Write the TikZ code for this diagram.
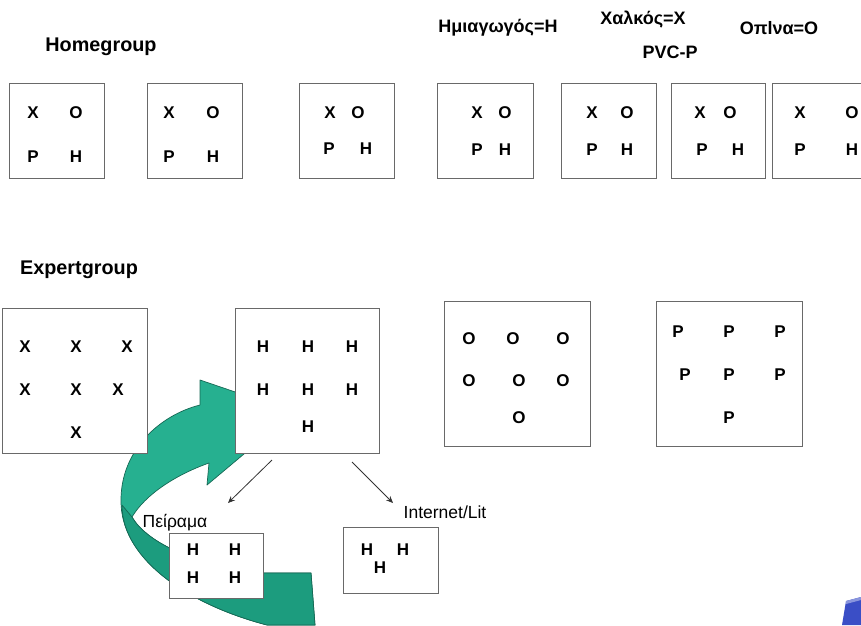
\documentclass[tikz,border=0pt]{standalone}
\usepackage{fontspec}
\setmainfont{Liberation Sans}
\usetikzlibrary{arrows.meta}

\definecolor{frame}{RGB}{105,105,105}
\definecolor{tealA}{RGB}{38,176,144}
\definecolor{tealB}{RGB}{28,156,126}
\definecolor{tealLine}{RGB}{22,104,84}
\definecolor{slideblue}{RGB}{58,78,198}

\tikzset{
  box/.style={draw=frame, line width=1.2pt, fill=white, inner sep=0pt, anchor=north west},
  lt/.style={font=\fontsize{17}{17}\selectfont\bfseries, inner sep=0pt},
  head/.style={font=\fontsize{19.8}{21}\selectfont\bfseries, inner sep=0pt},
  key/.style={font=\fontsize{18}{19}\selectfont\bfseries, inner sep=0pt},
  note/.style={font=\fontsize{17.5}{19}\selectfont, inner sep=0pt},
  pointer/.style={draw=black!80, line width=0.8pt, -{Stealth[length=7pt,width=6pt]}},
}

\begin{document}
\begin{tikzpicture}[x=1pt,y=-1pt]
\path[use as bounding box] (0,0) rectangle (861,625);
\clip (0,0) rectangle (861,625);

% headings and key
\node[head] (home) at (101,47) {Homegroup};
\node[head] (expert) at (79,270) {Expertgroup};
\node[key] (kH) at (498,28) {Ημιαγωγός=H};
\node[key] (kX) at (643,20) {Χαλκός=X};
\node[key] (kO) at (779,28) {Οπlνα=O};
\node[key] (kP) at (670,52) {PVC-P};

% home groups
\foreach \n/\xa/\xb in {1/9/104, 2/147/242, 3/299/394, 4/437/533, 5/561/656, 6/671/765, 7/772/880}{
  \pgfmathsetmacro{\w}{\xb-\xa}
  \node[box, minimum width=\w pt, minimum height=95pt] (hg\n) at (\xa,83) {};
}
\foreach \n/\xx/\xo/\px/\hx/\yt/\yb in {
  1/33/76/33/76/113/157, 2/169/213/169/213/113/157, 3/330/358/329/366/113/149,
  4/477/505/477/505/113/150, 5/592/627/592/627/113/150, 6/700/730/702/738/113/150,
  7/800/852/800/852/113/150}{
  \node[lt] (hg\n x) at (\xx,\yt) {X};
  \node[lt] (hg\n o) at (\xo,\yt) {O};
  \node[lt] (hg\n p) at (\px,\yb) {P};
  \node[lt] (hg\n h) at (\hx,\yb) {H};
}

% curved green arrow, drawn behind the expert boxes
\path[fill=tealA, draw=tealLine, line width=0.7pt, line join=round]
  (200,380) -- (294,412) -- (207,485) -- (209,463)
  .. controls (175,475) and (145,495) .. (132,517)
  .. controls (145,540) and (190,565) .. (263,573)
  -- (311,573) -- (315,625) -- (267,625)
  .. controls (190,605) and (120,560) .. (121,500)
  .. controls (121,450) and (160,415) .. (200,405) -- cycle;
\path[fill=tealB, draw=tealLine, line width=0.7pt, line join=round]
  (122,505) -- (132,517)
  .. controls (145,540) and (190,565) .. (263,573)
  -- (311,573) -- (315,625) -- (267,625)
  .. controls (190,605) and (122,560) .. (122,505) -- cycle;

% expert groups
\node[box, minimum width=145pt, minimum height=145pt] (eX) at (2,308) {};
\node[box, minimum width=144pt, minimum height=145pt] (eH) at (235,308) {};
\node[box, minimum width=146pt, minimum height=145pt] (eO) at (444,301) {};
\node[box, minimum width=146pt, minimum height=145pt] (eP) at (656,301) {};

\foreach \i/\px/\py in {1/25/347, 2/76/347, 3/127/347, 4/25/390, 5/76/390, 6/118/390, 7/76/433}
  \node[lt] (eX\i) at (\px,\py) {X};
\foreach \i/\px/\py in {1/263/347, 2/308/347, 3/352/347, 4/263/390, 5/308/390, 6/352/390, 7/308/427}
  \node[lt] (eH\i) at (\px,\py) {H};
\foreach \i/\px/\py in {1/469/339, 2/513/339, 3/563/339, 4/469/381, 5/519/381, 6/563/381, 7/519/418}
  \node[lt] (eO\i) at (\px,\py) {O};
\foreach \i/\px/\py in {1/678/332, 2/729/332, 3/780/332, 4/685/375, 5/729/375, 6/780/375, 7/729/418}
  \node[lt] (eP\i) at (\px,\py) {P};

% research paths
\coordinate (s1) at (272,460);
\coordinate (t1) at (228,503);
\coordinate (s2) at (352,462);
\coordinate (t2) at (393,503);
\draw[pointer] (s1) -- (t1);
\draw[pointer] (s2) -- (t2);

\node[note] (exp) at (175,523) {Πείραμα};
\node[note] (net) at (445,512) {Internet/Lit};

\node[box, minimum width=94pt, minimum height=65pt] (pB) at (169,533) {};
\node[box, minimum width=95pt, minimum height=66pt] (iB) at (343,527) {};
\foreach \i/\px/\py in {1/193/550, 2/235/550, 3/193/578, 4/235/578}
  \node[lt] (pB\i) at (\px,\py) {H};
\foreach \i/\px/\py in {1/367/550, 2/403/550, 3/380/568}
  \node[lt] (iB\i) at (\px,\py) {H};

% corner ornament
\fill[slideblue] (846,601) -- (861,597) -- (861,625) -- (842,625) -- cycle;
\fill[slideblue!60!white] (846,601) -- (861,597) -- (861,600) -- (846,604) -- cycle;
\end{tikzpicture}
\end{document}
